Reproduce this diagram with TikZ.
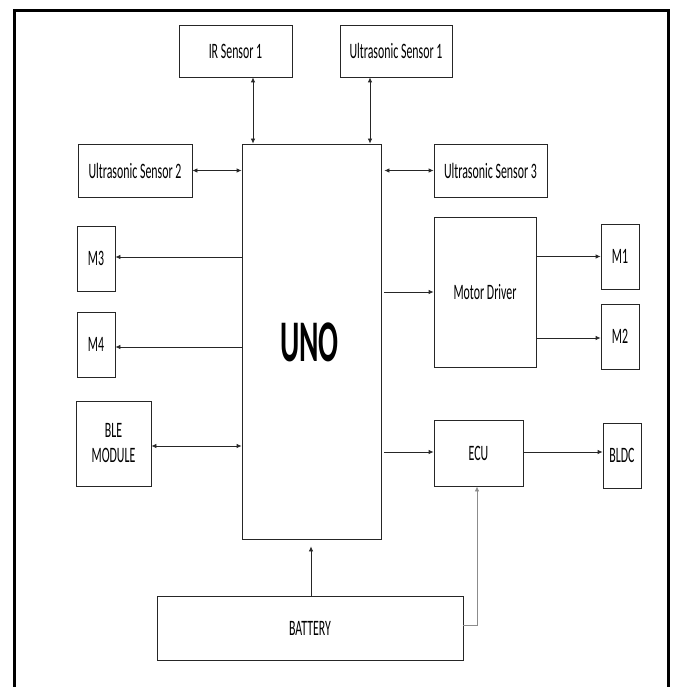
\documentclass[tikz,border=0pt]{standalone}
\usepackage{fontspec}
\setmainfont{Carlito}
\newfontfamily\narrowfont[FakeStretch=0.54]{Carlito}
\newfontfamily\unofont[FakeStretch=0.5]{Carlito}
\usetikzlibrary{arrows.meta}
\begin{document}
\begin{tikzpicture}
    [x=1pt,y=-1pt,
     blk/.style 2 args={draw=black!85,line width=0.8pt,inner sep=0pt,
       minimum width=#1,minimum height=#2,align=center,
       font=\narrowfont\fontsize{22}{25}\selectfont},
     lnk/.style={draw=black!85,line width=0.8pt,-{Latex[length=5pt,width=4.5pt]}},
     bilnk/.style={lnk,{Latex[length=5pt,width=4.5pt]}-{Latex[length=5pt,width=4.5pt]}}]
    \useasboundingbox (0,0) rectangle (673,687);
    %frame
    \draw[line width=3pt] (14,687)--(14,11)--(668,11)--(668,687);
    %controller
    \node[blk={139pt}{395pt}] (uno) at (311.5,341.5) {};
    \node[font=\unofont\bfseries\fontsize{59}{59}\selectfont] (unotxt) at (309.5,342) {UNO};
    %sensors
    \node[blk={113pt}{52pt}] (ir) at (235.5,51) {IR Sensor 1};
    \node[blk={112pt}{52pt}] (us1) at (396,51) {Ultrasonic Sensor 1};
    \node[blk={114pt}{53pt}] (us2) at (135,170.5) {Ultrasonic Sensor 2};
    \node[blk={113pt}{53pt}] (us3) at (490.5,170.5) {Ultrasonic Sensor 3};
    %left side
    \node[blk={38pt}{65pt}] (m3) at (96,258.5) {M3};
    \node[blk={38pt}{65pt}] (m4) at (96,344.5) {M4};
    \node[blk={75pt}{85pt}] (ble) at (113.5,443.5) {BLE\\MODULE};
    %right side
    \node[blk={102pt}{150pt}] (md) at (485,292) {Motor Driver};
    \node[blk={38pt}{65pt}] (m1) at (620,256.5) {M1};
    \node[blk={38pt}{65pt}] (m2) at (620,336.5) {M2};
    \node[blk={89pt}{66pt}] (ecu) at (478.5,453) {ECU};
    \node[blk={38pt}{65pt}] (bldc) at (622,455.5) {BLDC};
    %supply
    \node[blk={306pt}{64pt}] (bat) at (310,628) {BATTERY};
    %sensor links
    \draw[bilnk] ([xshift=17.5pt]ir.south)--([xshift=17.5pt]ir.south |- uno.north);
    \draw[bilnk] ([xshift=-26pt]us1.south)--([xshift=-26pt]us1.south |- uno.north);
    \draw[bilnk] (us2.east)--(us2.east -| uno.west);
    \draw[bilnk] ([xshift=3pt]us3.west -| uno.east)--(us3.west);
    \draw[bilnk] ([yshift=-2.5pt]ble.east)--([yshift=-2.5pt]ble.east -| uno.west);
    %motor links
    \draw[lnk] ([yshift=1.5pt]m3.east -| uno.west)--([yshift=1.5pt]m3.east);
    \draw[lnk] ([yshift=-2.5pt]m4.east -| uno.west)--([yshift=-2.5pt]m4.east);
    \draw[lnk] ([xshift=3pt]md.west -| uno.east)--(md.west);
    \draw[lnk] (m1.west -| md.east)--(m1.west);
    \draw[lnk] ([yshift=-1.5pt]m2.west -| md.east)--([yshift=-1.5pt]m2.west);
    \draw[lnk] ([xshift=3pt,yshift=1pt]ecu.west -| uno.east)--([yshift=1pt]ecu.west);
    \draw[lnk] ([yshift=1pt]ecu.east)--([yshift=1pt]ecu.east -| bldc.west);
    %power links
    \draw[lnk,shorten >=7pt] ([xshift=1pt]bat.north)--([xshift=1pt]bat.north |- uno.south);
    \draw[lnk,black!45] ([yshift=3pt]bat.east) -| ([xshift=-1.5pt]ecu.south);
\end{tikzpicture}
\end{document}
